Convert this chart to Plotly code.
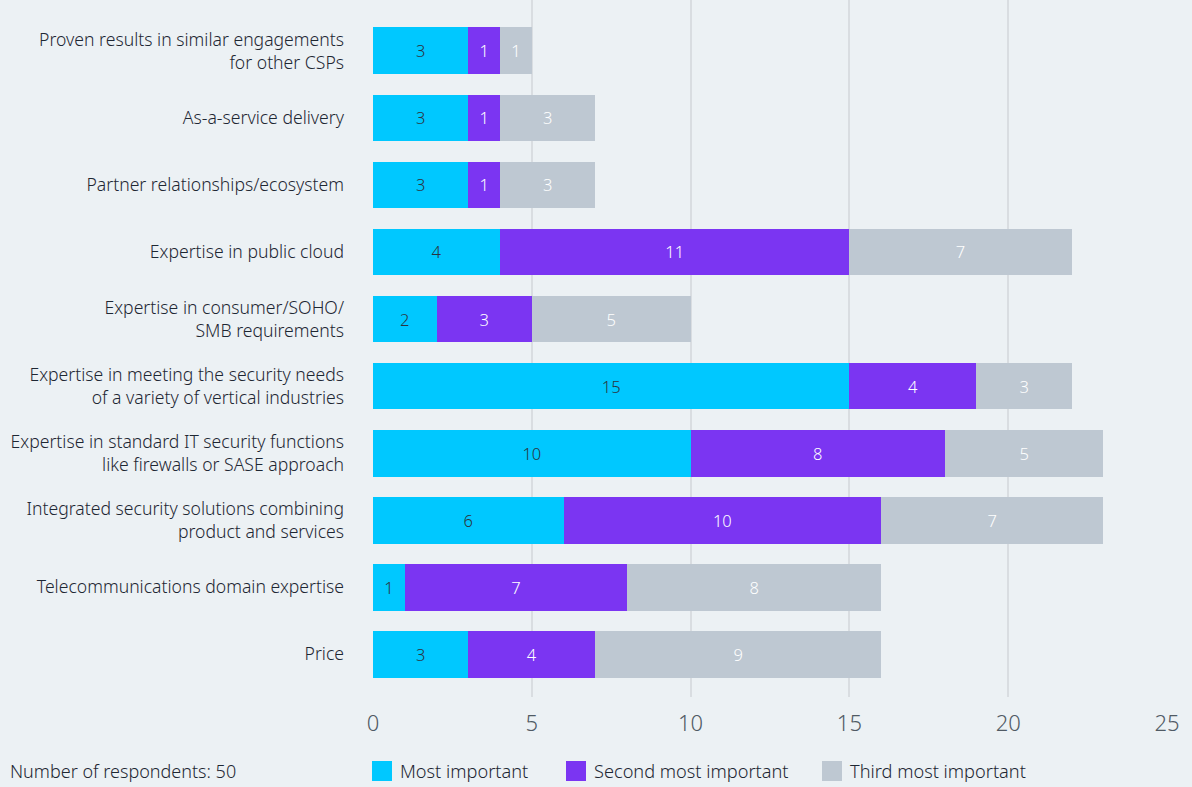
import plotly.graph_objects as go

# Survey: what matters most when choosing a security partner
categories = [
    "Proven results in similar engagements<br>for other CSPs",
    "As-a-service delivery",
    "Partner relationships/ecosystem",
    "Expertise in public cloud",
    "Expertise in consumer/SOHO/<br>SMB requirements",
    "Expertise in meeting the security needs<br>of a variety of vertical industries",
    "Expertise in standard IT security functions<br>like firewalls or SASE approach",
    "Integrated security solutions combining<br>product and services",
    "Telecommunications domain expertise",
    "Price",
]
most_important = [3, 3, 3, 4, 2, 15, 10, 6, 1, 3]
second_most = [1, 1, 1, 11, 3, 4, 8, 10, 7, 4]
third_most = [1, 3, 3, 7, 5, 3, 5, 7, 8, 9]

series_names = ["Most important", "Second most important", "Third most important"]
x_ticks = [0, 5, 10, 15, 20, 25]
respondents_note = "Number of respondents: 50"

FONT = "Noto Sans"
WEIGHT = 300
BG = "#ECF1F4"
COLORS = ["#00C8FF", "#7B35F2", "#BEC8D2"]
TEXT_COLORS = ["#2B3440", "#FFFFFF", "#FFFFFF"]

fig = go.Figure()
for name, vals, col, tcol in zip(series_names, [most_important, second_most, third_most], COLORS, TEXT_COLORS):
    fig.add_trace(go.Bar(
        y=categories, x=vals, name=name, orientation="h",
        marker=dict(color=col, line=dict(width=0)),
        text=[str(v) for v in vals], textposition="inside",
        insidetextanchor="middle", textangle=0, constraintext="none",
        textfont=dict(family=FONT, size=16.5, color=tcol, weight=WEIGHT),
        showlegend=False,
    ))

W, H = 1192, 787
L, R, T, B = 373, 25, 0, 90
pw, ph = W - L - R, H - T - B

fig.update_layout(
    width=W, height=H, barmode="stack", bargap=0.30,
    paper_bgcolor=BG, plot_bgcolor=BG,
    margin=dict(l=L, r=R, t=T, b=B, autoexpand=False),
    font=dict(family=FONT, color="#1E2733", weight=WEIGHT),
    xaxis=dict(
        range=[0, 25], tickvals=x_ticks, showgrid=True, gridcolor="#D9DDE1",
        gridwidth=2, zeroline=False, showline=False,
        tickfont=dict(family=FONT, size=22, color="#505A64", weight=WEIGHT),
        ticklabelstandoff=11, fixedrange=True,
    ),
    yaxis=dict(
        categoryorder="array", categoryarray=categories,
        range=[9.64, -0.76], showgrid=False, zeroline=False, showline=False,
        tickfont=dict(family=FONT, size=17.6, color="#1E2733", weight=WEIGHT),
        ticklabelstandoff=28,
    ),
)

# Legend row and respondent note below the axis
def px_x(x):
    return (x - L) / pw

def px_y(y):
    return (H - B - y) / ph

legend_x = [372, 566, 822]
for name, col, x0 in zip(series_names, COLORS, legend_x):
    fig.add_shape(type="rect", xref="paper", yref="paper",
                  x0=px_x(x0), x1=px_x(x0 + 20), y0=px_y(781), y1=px_y(761),
                  fillcolor=col, line=dict(width=0))
    fig.add_annotation(xref="paper", yref="paper", x=px_x(x0 + 26), y=px_y(771),
                       text=name, showarrow=False, xanchor="left", yanchor="middle",
                       font=dict(family=FONT, size=18.2, color="#1E2733", weight=WEIGHT))

fig.add_annotation(xref="paper", yref="paper", x=px_x(8), y=px_y(771),
                   text=respondents_note, showarrow=False, xanchor="left", yanchor="middle",
                   font=dict(family=FONT, size=18, color="#1E2733", weight=WEIGHT))

fig.write_html("out.html")
